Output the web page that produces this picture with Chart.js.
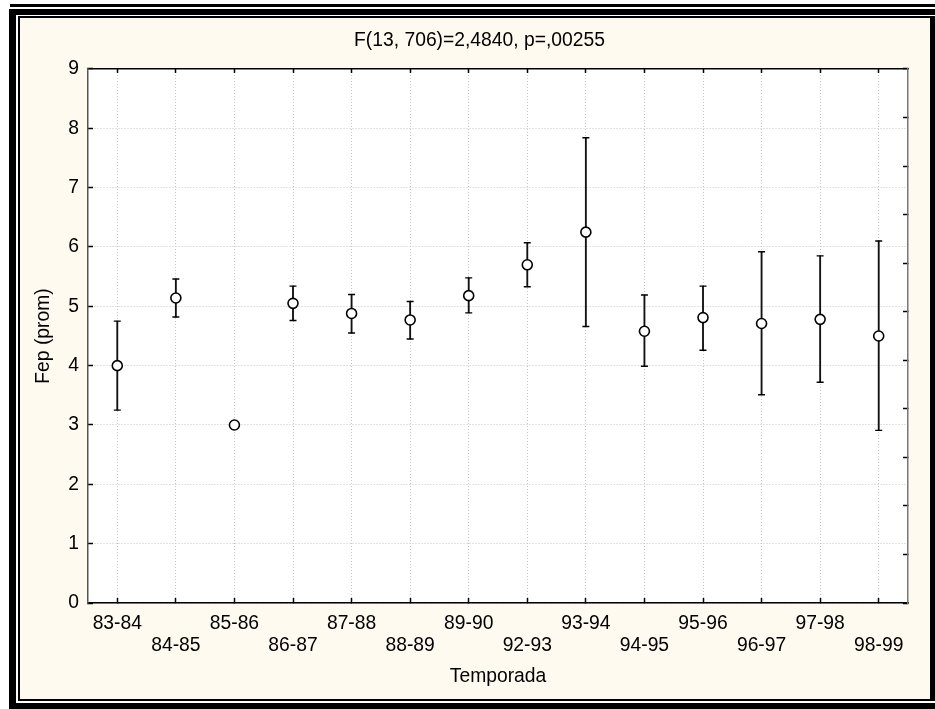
<!DOCTYPE html>
<html>
<head>
<meta charset="utf-8">
<script src="https://cdn.jsdelivr.net/npm/chart.js@4"></script>
<style>
  html, body { margin: 0; padding: 0; background: #fff; }
  body { position: relative; width: 935px; height: 709px; overflow: hidden; }
  .box { position: absolute; }
  #line-top { left: 10px; top: 4px; width: 925px; height: 3px; background: #000; }
  #outer { left: 9px; top: 9px; width: 926px; height: 700px; background: #000; }
  #gap { left: 16px; top: 15px; width: 919px; height: 688px; background: #fff; }
  #inner { left: 18px; top: 16px; width: 917px; height: 685px; background: #000; }
  #paper { left: 20px; top: 18px; width: 910px; height: 681px; background: #fffaf0; }
  #chart { position: absolute; left: 0; top: 0; }
</style>
</head>
<body>
<div class="box" id="line-top"></div>
<div class="box" id="outer"></div>
<div class="box" id="gap"></div>
<div class="box" id="inner"></div>
<div class="box" id="paper"></div>
<canvas id="chart" width="935" height="709"></canvas>
<script>
// Fep (prom) by season: mean with upper / lower whiskers
const seasons = ['83-84', '84-85', '85-86', '86-87', '87-88', '88-89', '89-90',
                 '92-93', '93-94', '94-95', '95-96', '96-97', '97-98', '98-99'];
const means = [4.00, 5.14, 3.00, 5.05, 4.88, 4.77, 5.18, 5.70, 6.25, 4.58, 4.81, 4.71, 4.78, 4.50];
const upper = [4.75, 5.46, null, 5.34, 5.20, 5.08, 5.48, 6.07, 7.84, 5.19, 5.34, 5.92, 5.85, 6.10];
const lower = [3.25, 4.82, null, 4.76, 4.55, 4.45, 4.89, 5.33, 4.66, 3.99, 4.26, 3.51, 3.72, 2.91];
const yTicks = [0, 1, 2, 3, 4, 5, 6, 7, 8, 9];

const FONT = 'Liberation Sans, Arial, sans-serif';
const gridColor = '#c4c4c4';

// white plotting area
const plotBackground = {
  id: 'plotBackground',
  beforeDraw(chart) {
    const a = chart.chartArea;
    const ctx = chart.ctx;
    ctx.save();
    ctx.fillStyle = '#ffffff';
    ctx.fillRect(a.left, a.top, a.right - a.left, a.bottom - a.top);
    ctx.restore();
  }
};

const whiskers = seasons.map((s, i) => upper[i] == null ? null : [lower[i], upper[i]]);

new Chart(document.getElementById('chart'), {
  type: 'bar',
  data: {
    labels: seasons,
    datasets: [
      {
        type: 'line',
        label: 'Media',
        data: means,
        showLine: false,
        pointStyle: 'circle',
        pointRadius: 5,
        pointBorderWidth: 1.6,
        pointBackgroundColor: '#ffffff',
        pointBorderColor: '#000000',
        order: 0
      },
      {
        type: 'line',
        label: 'Sup',
        data: upper,
        showLine: false,
        pointStyle: 'line',
        pointRadius: 3.5,
        pointBorderWidth: 1.4,
        pointBorderColor: '#000000',
        order: 1
      },
      {
        type: 'line',
        label: 'Inf',
        data: lower,
        showLine: false,
        pointStyle: 'line',
        pointRadius: 3.5,
        pointBorderWidth: 1.4,
        pointBorderColor: '#000000',
        order: 2
      },
      {
        type: 'bar',
        label: 'Rango',
        data: whiskers,
        barThickness: 1.2,
        backgroundColor: '#111111',
        borderWidth: 0,
        order: 3
      }
    ]
  },
  options: {
    responsive: false,
    animation: false,
    layout: { padding: { left: 24, right: 0, top: 0, bottom: 0 } },
    plugins: {
      legend: { display: false },
      tooltip: { enabled: false },
      title: {
        display: true,
        text: 'F(13, 706)=2,4840, p=,00255',
        color: '#000',
        font: { family: FONT, size: 19.3, weight: 'normal', lineHeight: 1.2 },
        padding: { top: 28.9, bottom: 16.9 }
      }
    },
    scales: {
      x: {
        type: 'category',
        position: 'bottom',
        offset: true,
        grid: {
          offset: false,
          color: gridColor,
          lineWidth: 1,
          tickLength: -5,
          tickColor: '#000',
          tickWidth: 1.5
        },
        border: { color: '#000', width: 1.5, dash: [1, 2] },
        ticks: {
          autoSkip: false,
          maxRotation: 0,
          padding: 15.2,
          color: '#000',
          font: { family: FONT, size: 19.3, lineHeight: 1.12 },
          callback: (v, i) => i % 2 === 0 ? [seasons[i], ''] : ['', seasons[i]]
        },
        title: {
          display: true,
          text: 'Temporada',
          color: '#000',
          font: { family: FONT, size: 19.3, lineHeight: 1.2 },
          padding: { top: 0, bottom: 21 }
        },
        afterFit: (scale) => { scale.height = 106; }
      },
      xTop: {
        type: 'category',
        position: 'top',
        labels: seasons,
        offset: true,
        grid: {
          offset: false,
          drawOnChartArea: false,
          tickLength: -4,
          tickColor: '#000',
          tickWidth: 1.5
        },
        border: { color: '#000', width: 1.5 },
        ticks: { display: false },
        afterFit: (scale) => { scale.height = 0; }
      },
      y: {
        type: 'linear',
        position: 'left',
        min: yTicks[0],
        max: yTicks[yTicks.length - 1],
        afterBuildTicks: (scale) => { scale.ticks = yTicks.map(v => ({ value: v })); },
        grid: {
          color: gridColor,
          lineWidth: 1,
          tickLength: -5,
          tickColor: '#000',
          tickWidth: 1.5
        },
        border: { color: '#555', width: 1.5, dash: [1, 2] },
        ticks: {
          padding: 14,
          color: '#000',
          font: { family: FONT, size: 19.3 }
        },
        title: {
          display: true,
          text: 'Fep (prom)',
          color: '#000',
          font: { family: FONT, size: 19.3, lineHeight: 1.2 },
          padding: { top: 8.4, bottom: 0 }
        },
        afterFit: (scale) => { scale.width = 64; }
      },
      yRight: {
        type: 'linear',
        position: 'right',
        min: 0,
        max: 11,
        ticks: { display: false, stepSize: 1 },
        grid: {
          drawOnChartArea: false,
          tickLength: -5,
          tickColor: '#000',
          tickWidth: 1.5
        },
        border: { color: '#777', width: 1.5 },
        afterFit: (scale) => { scale.width = 27; }
      }
    }
  },
  plugins: [plotBackground]
});
</script>
</body>
</html>
